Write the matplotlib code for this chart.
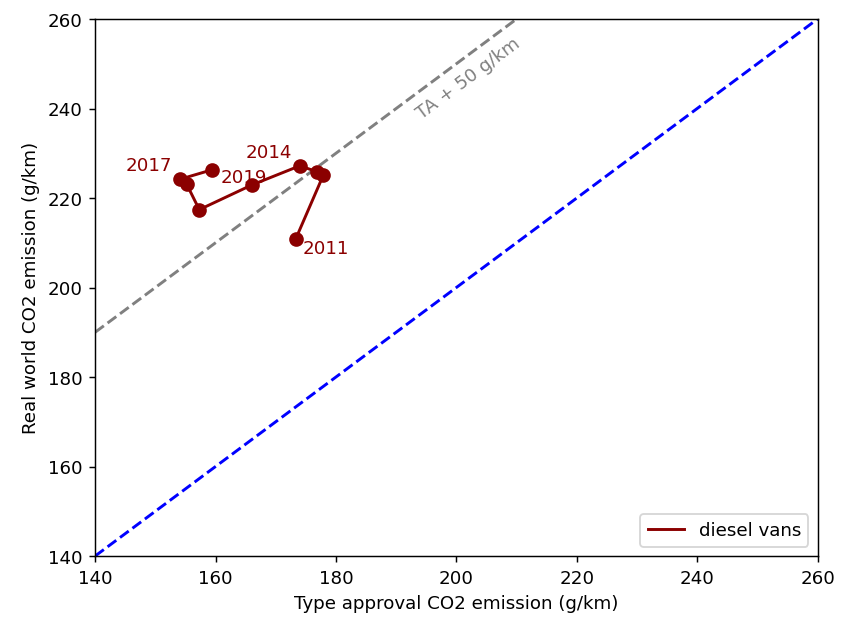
import numpy as np
import matplotlib.pyplot as plt

years = [2011, 2012, 2013, 2014, 2015, 2016, 2017, 2018, 2019]
type_approval = [173.3, 177.9, 176.8, 174.0, 166.0, 157.3, 155.2, 154.1, 159.4]
real_world = [210.8, 225.1, 225.9, 227.2, 222.9, 217.4, 223.1, 224.2, 226.3]

# which years get a label, and where the text sits relative to the point
labelled = {2011: (4, -9.6, "left"), 2014: (-4.4, 2.7, "right"),
            2017: (-7.8, 5.6, "right"), 2019: (5, -9, "left")}

fig = plt.figure(figsize=(6.4, 4.727), dpi=131.56)
ax = fig.add_axes([0.113, 0.1045, 0.858, 0.8635])

lims = np.array([140, 260])
ax.plot(lims, lims, "--", color="blue", lw=1.6)
ax.plot(lims, lims + 50, "--", color="gray", lw=1.6)
ax.text(202.0, 246.8, "TA + 50 g/km", color="gray", fontsize=10,
        rotation=36.6, ha="center", va="center", rotation_mode="anchor")

ax.plot(type_approval, real_world, "-", color="darkred", lw=1.6,
        label="diesel vans")
ax.plot(type_approval, real_world, "o", color="darkred", ms=7)

for yr, x, y in zip(years, type_approval, real_world):
    if yr in labelled:
        dx, dy, ha = labelled[yr]
        ax.annotate(str(yr), (x, y), xytext=(dx, dy), textcoords="offset points",
                    color="darkred", fontsize=10, ha=ha, va="bottom")

ax.set_xlim(140, 260)
ax.set_ylim(140, 260)
ax.set_xlabel("Type approval CO2 emission (g/km)")
ax.set_ylabel("Real world CO2 emission (g/km)")
ax.legend(loc="lower right")

fig.savefig("out.png")
